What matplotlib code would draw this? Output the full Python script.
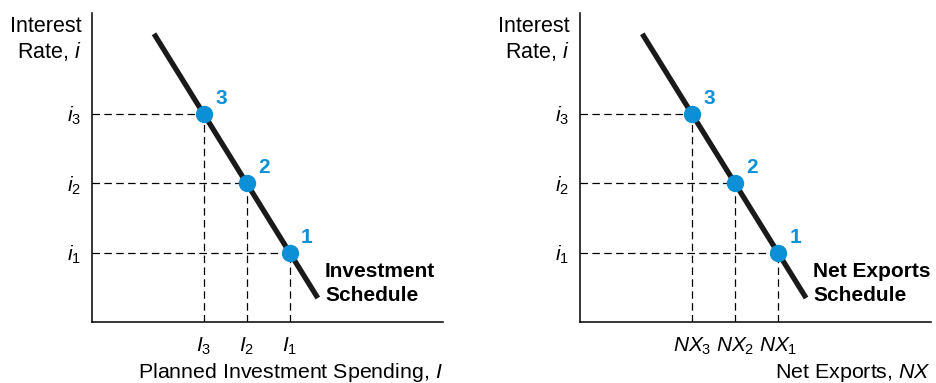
import matplotlib
matplotlib.use("Agg")
import matplotlib.pyplot as plt

plt.rcParams['font.family'] = ['Liberation Sans', 'DejaVu Sans']
plt.rcParams['mathtext.fontset'] = 'custom'
plt.rcParams['mathtext.rm'] = 'Liberation Sans'
plt.rcParams['mathtext.it'] = 'Liberation Sans:italic'
plt.rcParams['mathtext.bf'] = 'Liberation Sans:bold'

# interest rate levels and matching quantities (points 1, 2, 3)
rates = [2.0, 4.0, 6.0]
quantities = [5.75, 4.5, 3.25]
point_labels = ['1', '2', '3']
rate_ticks = [r'$i_1$', r'$i_2$', r'$i_3$']

# schedule endpoints (quantity, rate)
sched_x = [1.81, 6.57]
sched_y = [8.3, 0.69]

invest_ticks = [r'$I_1$', r'$I_2$', r'$I_3$']
nx_ticks = [r'$NX_1$', r'$NX_2$', r'$NX_3$']

panels = [
    dict(left=0.0979, xticks=invest_ticks, xlabel=r'Planned Investment Spending, $I$',
         name='Investment\nSchedule'),
    dict(left=0.619, xticks=nx_ticks, xlabel=r'Net Exports, $NX$',
         name='Net Exports\nSchedule'),
]

BLUE = '#0b8fd6'
FS = 15

fig = plt.figure(figsize=(9.37, 3.83), dpi=100)

for p in panels:
    ax = fig.add_axes([p['left'], 0.1593, 0.3746, 0.8068])
    ax.set_xlim(0, 10.2)
    ax.set_ylim(0, 8.9)
    for s in ['top', 'right']:
        ax.spines[s].set_visible(False)
    for s in ['left', 'bottom']:
        ax.spines[s].set_linewidth(1.1)

    # dashed guides
    for q, r in zip(quantities, rates):
        ax.plot([0, q], [r, r], color='black', lw=0.9, ls=(0, (6, 3.5)), zorder=1)
        ax.plot([q, q], [0, r], color='black', lw=0.9, ls=(0, (6, 3.5)), zorder=1)

    ax.plot(sched_x, sched_y, color='#1a1a1a', lw=3.8, solid_capstyle='butt', zorder=2)
    ax.plot(quantities, rates, 'o', color=BLUE, ms=11.5, zorder=3)

    for q, r, lab in zip(quantities, rates, point_labels):
        ax.annotate(lab, (q, r), xytext=(12.5, 11), textcoords='offset points',
                    color=BLUE, fontsize=FS, fontweight='bold', va='center', ha='center')

    ax.set_yticks(rates, rate_ticks, fontsize=FS)
    ax.set_xticks(quantities, p['xticks'], fontsize=FS)
    ax.tick_params(length=0)
    ax.tick_params(axis='y', pad=8)
    ax.tick_params(axis='x', pad=10)

    ax.text(-0.03, 0.99, 'Interest\nRate, $i$', transform=ax.transAxes,
            ha='right', va='top', fontsize=15.5, linespacing=1.15)
    ax.text(1.0, -0.165, p['xlabel'], transform=ax.transAxes,
            ha='right', va='center', fontsize=15.4)
    ax.text(6.78, 1.11, p['name'], ha='left', va='center', fontsize=FS,
            fontweight='bold', linespacing=1.3)

fig.savefig('out.png', dpi=100)
